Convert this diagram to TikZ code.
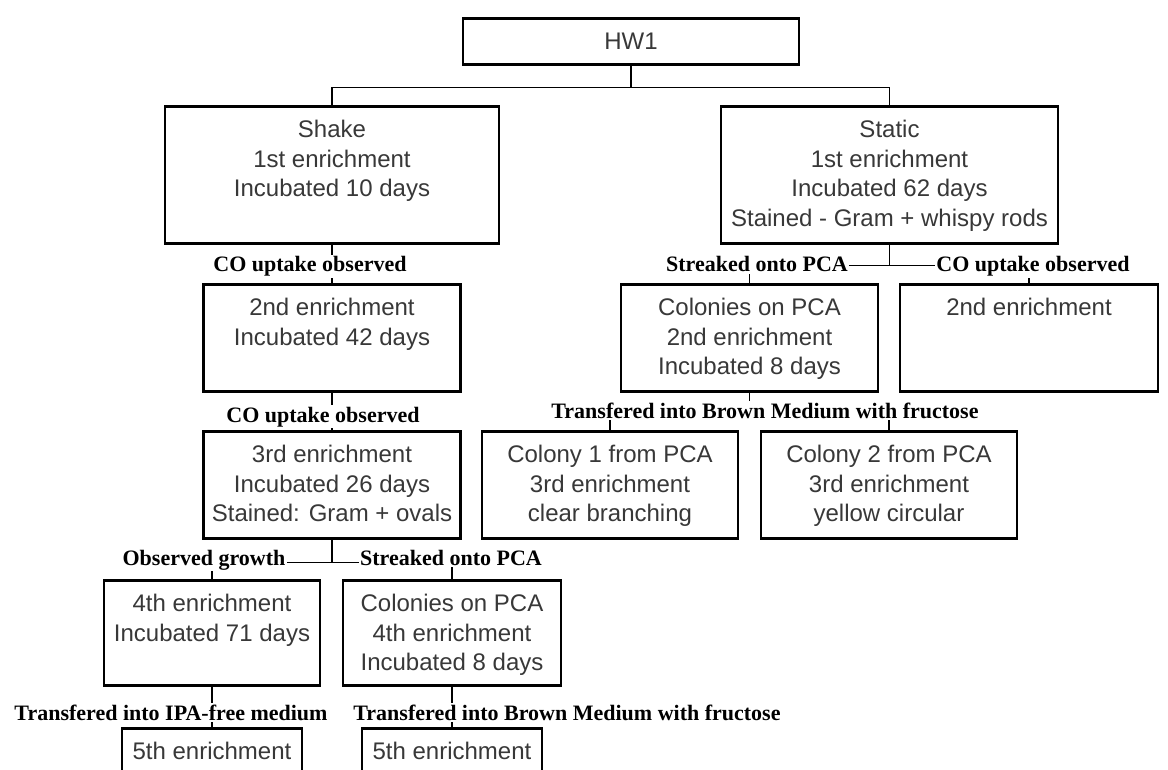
\documentclass[tikz,border=0pt]{standalone}
\usepackage{fontspec}
\setmainfont{Liberation Serif}
\newfontfamily\arialfont{Liberation Sans}
\definecolor{ink}{HTML}{383838}

\tikzset{
  box/.style={draw, line width=2.6pt, anchor=north, minimum width=#1, inner sep=0pt,
    text=ink, font=\arialfont\fontsize{24}{29.5}\selectfont},
  txt/.style={anchor=north, align=center, inner sep=0pt, yshift=-15pt,
    text=ink, font=\arialfont\fontsize{24}{29.5}\selectfont},
  cond/.style={anchor=base, fill=white, inner sep=1.5pt, font=\bfseries\fontsize{22}{24}\selectfont},
  link/.style={line width=1.2pt}
}

\begin{document}
\begin{tikzpicture}[x=1pt, y=-1pt]
\useasboundingbox[fill=white] (0,0) rectangle (1168,770);

% boxes
\node[box=336, minimum height=46] (hw1) at (631,17) {HW1};
\node[box=334, minimum height=137, label={[txt]north:{Shake\\1st enrichment\\Incubated 10 days}}] (shake) at (332,105) {};
\node[box=337, minimum height=137, label={[txt]north:{Static\\1st enrichment\\Incubated 62 days\\Stained - Gram + whispy rods}}] (static) at (889.5,105) {};

\node[box=257, minimum height=107, label={[txt]north:{2nd enrichment\\Incubated 42 days}}] (e2L) at (332,283) {};
\node[box=257, minimum height=107, label={[txt]north:{Colonies on PCA\\2nd enrichment\\Incubated 8 days}}] (colpca) at (749.5,283) {};
\node[box=258, minimum height=107, label={[txt]north:{2nd enrichment}}] (e2R) at (1029,283) {};

\node[box=257, minimum height=107, label={[txt]north:{3rd enrichment\\Incubated 26 days\\Stained: Gram + ovals}}] (e3L) at (332,430) {};
\node[box=256, minimum height=107, label={[txt]north:{Colony 1 from PCA\\3rd enrichment\\clear branching}}] (col1) at (610,430) {};
\node[box=256, minimum height=107, label={[txt]north:{Colony 2 from PCA\\3rd enrichment\\yellow circular}}] (col2) at (889,430) {};

\node[box=216, minimum height=105, label={[txt]north:{4th enrichment\\Incubated 71 days}}] (e4L) at (212,579) {};
\node[box=218, minimum height=105, label={[txt]north:{Colonies on PCA\\4th enrichment\\Incubated 8 days}}] (col4) at (452,579) {};

\node[box=180, minimum height=80, label={[txt]north:{5th enrichment}}] (e5L) at (212,727) {};
\node[box=180, minimum height=80, label={[txt]north:{5th enrichment}}] (e5R) at (452,727) {};

% connectors
\draw[link] (hw1.south) -- ++(0,22) coordinate (j0);
\draw[link] (shake.north) |- (j0) -| (static.north);
\draw[link] (shake.south) -- (e2L.north);
\draw[link] (e2L.south) -- (e3L.north);
\draw[link] (e3L.south) -- ++(0,23) coordinate (j3);
\draw[link] (e4L.north) |- (j3) -| (col4.north);
\draw[link] (e4L.south) -- (e5L.north);
\draw[link] (col4.south) -- (e5R.north);
\draw[link] (static.south) -- ++(0,21) coordinate (j1);
\draw[link] (colpca.north) |- (j1) -| (e2R.north);
\draw[link] (colpca.south) -- ++(0,22) coordinate (j2);
\draw[link] (col1.north) |- (j2) -| (col2.north);

% conditions on the links
\node[cond] (up1) at (310,272) {CO uptake observed};
\node[cond] (up2) at (323,422) {CO uptake observed};
\node[cond] (str1) at (757,272) {Streaked onto PCA};
\node[cond] (up3) at (1033,272) {CO uptake observed};
\node[cond] (tr1) at (765,418) {Transfered into Brown Medium with fructose};
\node[cond] (grow) at (204,565) {Observed growth};
\node[cond] (str2) at (451,565) {Streaked onto PCA};
\node[cond] (tr2) at (171,720) {Transfered into IPA-free medium};
\node[cond] (tr3) at (567,720) {Transfered into Brown Medium with fructose};
\end{tikzpicture}
\end{document}
